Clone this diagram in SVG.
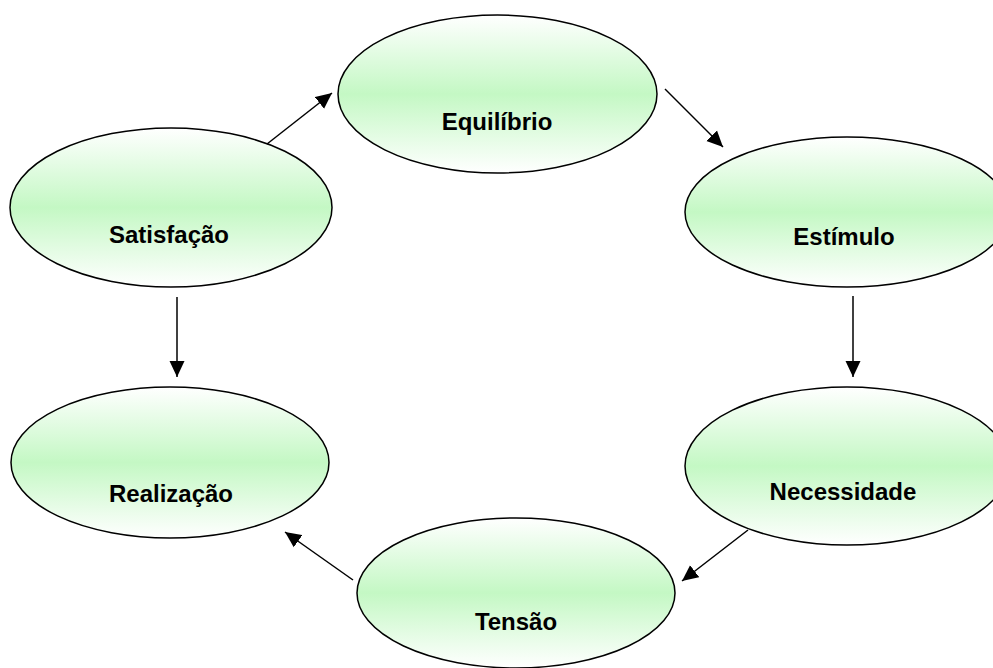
<svg xmlns="http://www.w3.org/2000/svg" width="993" height="668" viewBox="0 0 993 668">
<style>
.node ellipse{fill:url(#g);stroke:#000;stroke-width:1.5}
.node text{font-family:"Liberation Sans",Arial,sans-serif;font-weight:bold;font-size:24px;fill:#000;text-anchor:middle}
.edges line{stroke:#000;stroke-width:1.5;marker-end:url(#arr)}
</style>
<defs>
<linearGradient id="g" x1="0" y1="0" x2="0" y2="1">
<stop offset="0" stop-color="#ffffff"/>
<stop offset="0.5" stop-color="#c4f8c4"/>
<stop offset="1" stop-color="#ffffff"/>
</linearGradient>
<marker id="arr" markerUnits="userSpaceOnUse" markerWidth="17" markerHeight="16" refX="16" refY="7.5" orient="auto" viewBox="0 0 17 15">
<path d="M0,0 L16,7.5 L0,15 Z" fill="#000"/>
</marker>
</defs>
<rect width="993" height="668" fill="#fff"/>
<g id="equilibrio" class="node"><ellipse cx="497.5" cy="94" rx="159.5" ry="79"/><text x="497" y="130">Equilíbrio</text></g>
<g id="estimulo" class="node"><ellipse cx="847" cy="212" rx="162" ry="75"/><text x="844" y="245">Estímulo</text></g>
<g id="necessidade" class="node"><ellipse cx="847" cy="466" rx="162" ry="79"/><text x="843" y="500">Necessidade</text></g>
<g id="tensao" class="node"><ellipse cx="516" cy="593" rx="159" ry="75"/><text x="516" y="630">Tensão</text></g>
<g id="realizacao" class="node"><ellipse cx="170" cy="462.5" rx="159" ry="75.5"/><text x="171" y="502">Realização</text></g>
<g id="satisfacao" class="node"><ellipse cx="171" cy="207.5" rx="161" ry="79.5"/><text x="169" y="243">Satisfação</text></g>
<g id="connectors" class="edges">
<line x1="267" y1="144" x2="332" y2="93"/>
<line x1="665" y1="89" x2="723" y2="147"/>
<line x1="853" y1="296" x2="853" y2="377"/>
<line x1="748" y1="530" x2="682" y2="581"/>
<line x1="353" y1="580" x2="285" y2="532"/>
<line x1="177" y1="297" x2="177" y2="377"/>
</g>
</svg>
